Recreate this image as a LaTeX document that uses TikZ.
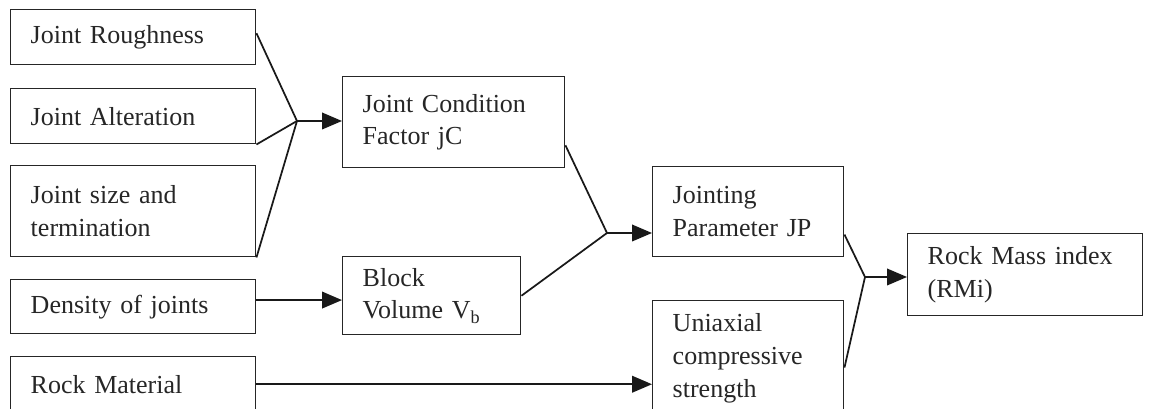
\documentclass[tikz,border=0pt]{standalone}
\usepackage{fontspec}
\setmainfont{Liberation Serif}
\usepackage{tikz}
\usetikzlibrary{arrows.meta,calc}

\tikzset{
	box/.style 2 args={draw=black!85, rectangle, line width=1.1pt, anchor=north west,
		minimum width=#1*0.75pt, minimum height=#2*0.75pt, text width=#1*0.75pt-30pt,
		inner xsep=15pt, inner ysep=0pt, align=left, text=black!85,
		font=\fontsize{19.5}{24.5}\selectfont},
	link/.style={-, line width=1.3pt, draw=black!90},
	flow/.style={-{Triangle[length=15pt, width=12.5pt]}, line width=1.3pt, draw=black!90}
}

\begin{document}
\begin{tikzpicture}[x=0.75pt, y=-0.75pt]
	\useasboundingbox (0,0) rectangle (1160,409);

	\node[box={245}{55}] (jr) at (10, 9)    {Joint Roughness};
	\node[box={245}{55}] (ja) at (10, 88)   {Joint Alteration};
	\node[box={245}{91}] (js) at (10, 165)  {Joint size and\\termination};
	\node[box={245}{54}] (dj) at (10, 279)  {Density of joints};
	\node[box={245}{55}] (rm) at (10, 356)  {Rock Material};
	\node[box={222}{91}] (jc) at (342, 76)  {Joint Condition\\Factor jC};
	\node[box={178}{78}] (bv) at (342, 256) {Block\\Volume V\textsubscript{b}};
	\node[box={191}{90}] (jp) at (652, 166) {Jointing\\Parameter JP};
	\node[box={191}{115}] (uc) at (652, 300) {Uniaxial\\compressive\\strength};
	\node[box={235}{82}] (rmi) at (907, 233) {Rock Mass index\\(RMi)};

	\coordinate (m1) at (297, 121);
	\coordinate (m2) at (607, 233);
	\coordinate (m3) at (865, 277);

	\draw[link] ([yshift=3pt]jr.east) -- (m1);
	\draw[link] (ja.south east) -- (m1);
	\draw[link] (js.south east) -- (m1);
	\draw[flow] (m1) -- (m1 -| jc.west);

	\draw[flow] ([yshift=5pt]dj.east) -- ([yshift=5pt]dj.east -| bv.west);
	\draw[flow] (rm.east) -- (rm.east -| uc.west);

	\draw[link] ($(jc.east)!0.5!(jc.south east)$) -- (m2);
	\draw[link] (bv.east) -- (m2);
	\draw[flow] (m2) -- (m2 -| jp.west);

	\draw[link] ($(jp.east)!0.5!(jp.south east)$) -- (m3);
	\draw[link] ([yshift=-7pt]uc.east) -- (m3);
	\draw[flow] (m3) -- (m3 -| rmi.west);
\end{tikzpicture}
\end{document}
